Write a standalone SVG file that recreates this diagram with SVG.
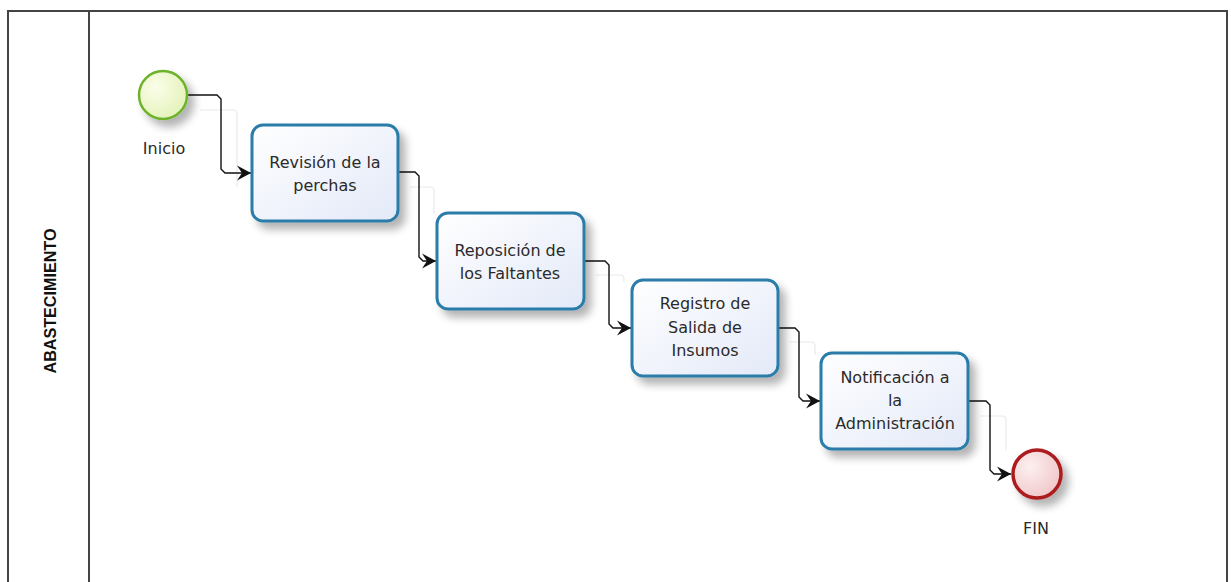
<svg xmlns="http://www.w3.org/2000/svg" width="1231" height="582" viewBox="0 0 1231 582">
  <style>
    .frame { fill: none; stroke: #444; stroke-width: 2; }
    .task rect.body { fill: url(#taskFill); stroke: #2b7ba9; stroke-width: 3; }
    .label { font-family: "DejaVu Sans", "Liberation Sans", sans-serif; font-size: 16px; fill: #2a2a2a; text-anchor: middle; }
    .lane { font-family: "Liberation Sans", Arial, sans-serif; font-size: 17px; font-weight: bold; fill: #111; text-anchor: middle; }
    .flow { fill: none; stroke: #111; stroke-width: 1.4; marker-end: url(#arrow); }
    .flowShadow { fill: none; stroke: #e9e9e9; stroke-width: 1.2; }
  </style>
  <defs>
    <linearGradient id="taskFill" x1="0" y1="0" x2="1" y2="1">
      <stop offset="0" stop-color="#ffffff"/>
      <stop offset="1" stop-color="#e3e9f8"/>
    </linearGradient>
    <radialGradient id="startFill" cx="0.35" cy="0.35" r="0.75">
      <stop offset="0" stop-color="#fbfde9"/>
      <stop offset="1" stop-color="#e2f2b6"/>
    </radialGradient>
    <radialGradient id="endFill" cx="0.35" cy="0.35" r="0.75">
      <stop offset="0" stop-color="#fdf0f0"/>
      <stop offset="1" stop-color="#efc4c6"/>
    </radialGradient>
    <filter id="shadow" x="-20%" y="-20%" width="150%" height="160%">
      <feGaussianBlur in="SourceAlpha" stdDeviation="4"/>
      <feOffset dx="6" dy="7" result="b"/>
      <feComponentTransfer><feFuncA type="linear" slope="0.3"/></feComponentTransfer>
      <feMerge><feMergeNode/><feMergeNode in="SourceGraphic"/></feMerge>
    </filter>
    <marker id="arrow" markerUnits="userSpaceOnUse" markerWidth="16" markerHeight="16" refX="14" refY="8" orient="auto">
      <path d="M0,0.5 L14,8 L0,15.5 L5,8 Z" fill="#111"/>
    </marker>
  </defs>

  <!-- pool and lane frame -->
  <g id="pool">
    <path class="frame" d="M8,590 V11 H1227 V590"/>
    <line class="frame" x1="89" y1="11" x2="89" y2="590"/>
    <text class="lane" transform="translate(56,301) rotate(-90)" textLength="145" lengthAdjust="spacingAndGlyphs">ABASTECIMIENTO</text>
  </g>

  <!-- faint connector shadows -->
  <g id="connector-shadows">
    <path class="flowShadow" d="M200,110 H233 Q237,110 237,114 V187"/>
    <path class="flowShadow" d="M410,187 H430 Q434,187 434,191 V214"/>
    <path class="flowShadow" d="M596,275 H620 Q624,275 624,279 V282"/>
    <path class="flowShadow" d="M790,342 H811 Q815,342 815,346 V355"/>
    <path class="flowShadow" d="M980,416 H1002 Q1006,416 1006,420 V450"/>
  </g>

  <!-- sequence flows -->
  <g id="connectors">
    <path class="flow" d="M188,95 H217 L221,99 V169 L225,173 H251"/>
    <path class="flow" d="M398,172 H415 L419,176 V257 L423,261 H436"/>
    <path class="flow" d="M584,261 H605 L609,265 V324 L613,328 H631"/>
    <path class="flow" d="M778,328 H795 L799,332 V397 L803,401 H820"/>
    <path class="flow" d="M968,401 H986 L990,405 V470 L994,474 H1011"/>
  </g>

  <g id="start">
    <circle cx="163" cy="95" r="24" fill="url(#startFill)" stroke="#6db32b" stroke-width="2.5" filter="url(#shadow)"/>
    <text class="label" x="164" y="154">Inicio</text>
  </g>

  <g id="task1" class="task">
    <rect class="body" x="252" y="125" width="146" height="96" rx="11" filter="url(#shadow)"/>
    <text class="label" x="325" y="168">Revisión de la</text>
    <text class="label" x="325" y="191">perchas</text>
  </g>

  <g id="task2" class="task">
    <rect class="body" x="437" y="213" width="147" height="96" rx="11" filter="url(#shadow)"/>
    <text class="label" x="510" y="256">Reposición de</text>
    <text class="label" x="510" y="279">los Faltantes</text>
  </g>

  <g id="task3" class="task">
    <rect class="body" x="632" y="280" width="146" height="96" rx="11" filter="url(#shadow)"/>
    <text class="label" x="705" y="309">Registro de</text>
    <text class="label" x="705" y="333">Salida de</text>
    <text class="label" x="705" y="356">Insumos</text>
  </g>

  <g id="task4" class="task">
    <rect class="body" x="821" y="353" width="147" height="96" rx="11" filter="url(#shadow)"/>
    <text class="label" x="895" y="383">Notificación a</text>
    <text class="label" x="895" y="406">la</text>
    <text class="label" x="895" y="429">Administración</text>
  </g>

  <g id="end">
    <circle cx="1037" cy="474" r="24" fill="url(#endFill)" stroke="#ac1b1f" stroke-width="3.5" filter="url(#shadow)"/>
    <text class="label" x="1036" y="534">FIN</text>
  </g>
</svg>
